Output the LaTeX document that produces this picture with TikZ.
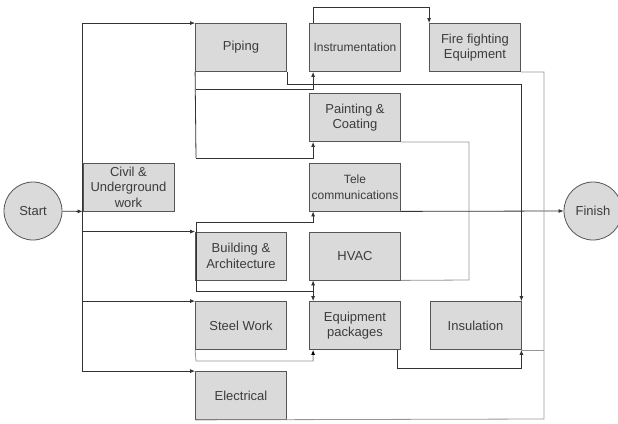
\documentclass[tikz,border=0pt]{standalone}
\usepackage{fontspec}
\setmainfont{Liberation Sans}
\usepackage{tikz}
\usetikzlibrary{calc, arrows.meta}

\definecolor{boxfill}{RGB}{218,218,218}
\definecolor{boxline}{RGB}{85,85,85}
\definecolor{txt}{RGB}{60,60,60}
\definecolor{faint}{RGB}{150,150,150}

\tikzset{
    >={Latex[length=5pt, width=4pt]},
    task/.style={rectangle, draw=boxline, fill=boxfill, line width=0.8pt,
        minimum width=91pt, minimum height=48pt, inner sep=1pt,
        align=center, text=txt, font=\fontsize{13}{15.5}\selectfont},
    tight/.style={font=\fontsize{12}{15.5}\selectfont},
    ends/.style={circle, draw=boxline, fill=boxfill, line width=0.8pt,
        minimum size=58pt, inner sep=0pt, text=txt,
        font=\fontsize{13}{15.5}\selectfont},
    link/.style={draw=black!80, line width=0.8pt},
    soft/.style={draw=faint, line width=0.8pt}
}

\begin{document}
\begin{tikzpicture}[x=1pt, y=-1pt]
        \useasboundingbox (0,0) rectangle (618,423);

        \node[ends] (start) at (33,211) {Start};
        \node[ends] (finish) at (593,211) {Finish};

        \node[task] (civil) at (128.5,187) {Civil \&\\Underground\\work};
        \node[task] (piping) at (241,47.5) {Piping};
        \node[task, tight] (instr) at (355,47.5) {Instrumentation};
        \node[task] (fire) at (475,47.5) {Fire fighting\\Equipment};
        \node[task] (paint) at (355,117.5) {Painting \&\\Coating};
        \node[task, tight] (tele) at (355,187) {Tele\\communications};
        \node[task] (build) at (241,256) {Building \&\\Architecture};
        \node[task] (hvac) at (355,256) {HVAC};
        \node[task] (steel) at (241,325.5) {Steel Work};
        \node[task] (equip) at (355,325.5) {Equipment\\packages};
        \node[task] (insul) at (475.5,325.5) {Insulation};
        \node[task] (elec) at (241,395.5) {Electrical};

        \coordinate (pa) at (196,89);
        \coordinate (pb) at (196,158);
        \coordinate (bt) at (196,222);
        \coordinate (bb) at (196,291);
        \coordinate (sb) at (196,361);
        \coordinate (pc) at (469,280);
        \coordinate (rc) at (544,419);

        % start and the first column
        \draw[link, ->] (start) -- (civil.south west);
        \draw[link, ->] (civil.south west) |- (piping.north west);
        \draw[link, ->] (civil.south west) |- (build.north west);
        \draw[link, ->] (civil.south west) |- (steel.north west);
        \draw[link, ->] (civil.south west) |- (elec.north west);

        % piping
        \draw[link] (piping.south west) -- (pb);
        \draw[link, ->] (pb) -| ([xshift=4pt]paint.south west);
        \draw[link, ->] (pa) -| ([xshift=4pt]instr.south west);
        \draw[link, ->] (piping.south east) -- ++(0,12) -| (insul.north east);
        \draw[link, ->] ([xshift=4pt]instr.north west) -- ++(0,-16) -| (fire.north west);

        % building
        \draw[link] (bt) -- (bb);
        \draw[link, ->] (bt) -| ([xshift=4pt]tele.south west);
        \draw[link, ->] (bb) -| ([xshift=4pt]hvac.south west);
        \draw[link, ->] (bb) -| ([xshift=4pt]equip.north west);

        % steel and equipment
        \draw[soft, -{Latex[length=5pt, width=4pt, black]}] (steel.south west) -- (sb) -| ([xshift=4pt]equip.south west);
        \draw[link, ->] ([xshift=-4pt]equip.south east) -- ++(0,18) -| (insul.south east);

        % the rest
        \draw[soft] (paint.south east) -| (pc) -- (hvac.south east);
        \draw[link, ->] (tele.south east) -- (finish.west);
        \draw[soft] (fire.south east) -| (rc) -- (elec.south west);
        \draw[soft] (insul.south east) -- (insul.south east -| rc);
\end{tikzpicture}
\end{document}
